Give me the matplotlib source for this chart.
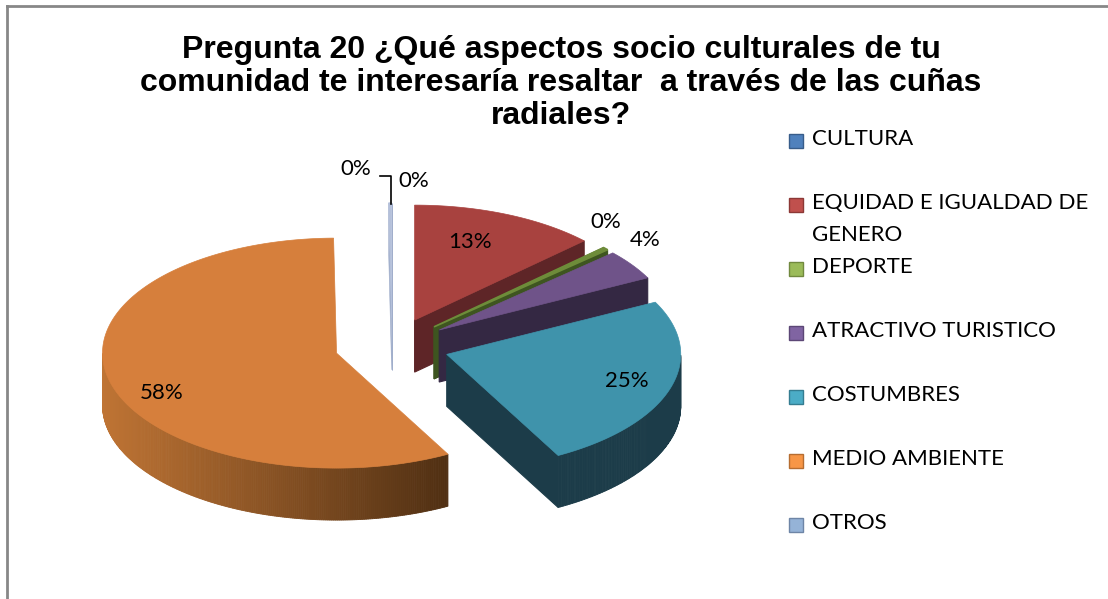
import numpy as np
import matplotlib.pyplot as plt
from matplotlib.patches import Polygon, Rectangle
from matplotlib.lines import Line2D

# datos
categorias = ["CULTURA", "EQUIDAD E IGUALDAD DE\nGENERO", "DEPORTE",
              "ATRACTIVO TURISTICO", "COSTUMBRES", "MEDIO AMBIENTE", "OTROS"]
valores = [0.0, 12.9, 0.4, 4.2, 24.6, 57.7, 0.2]
etiquetas = ["0%", "13%", "0%", "4%", "25%", "58%", "0%"]

colores = ["#4F81BD", "#A8423F", "#6E8C3A", "#6F5389", "#3F93AB", "#D67F3C", "#B4C0DA"]
lados = ["#2E4B6E", "#5E2527", "#3E5520", "#342843", "#1C3C49", "#5A3416", "#A0AECB"]
leyenda_col = ["#4F81BD", "#C0504D", "#9BBB59", "#8064A2", "#4BACC6", "#F79646", "#95B3D7"]
leyenda_borde = ["#385D8A", "#8C3836", "#71893F", "#5C4776", "#357D91", "#B66D31", "#6E85A6"]

# posiciones de etiquetas (pixeles)
pos_etiquetas = [(356, 169), (470, 242), (606, 222), (645, 240), (627, 381), (162, 393), (414, 181)]

cx, cy = 392, 346
rx, ry = 234, 115
prof = 52
expl = 0.245

fig = plt.figure(figsize=(11.08, 5.99), dpi=100)
ax = fig.add_axes([0, 0, 1, 1])
ax.set_xlim(0, 1108)
ax.set_ylim(599, 0)
ax.axis("off")

fracs = np.array(valores) / sum(valores)
inicio = 90 - 360 * np.concatenate([[0], np.cumsum(fracs)[:-1]])
fin = inicio - 360 * fracs
medio = (inicio + fin) / 2


def punto(t, r, ox, oy, dz=0):
    t = np.radians(t)
    return (cx + ox + r * rx * np.cos(t), cy + oy - r * ry * np.sin(t) + dz)


def mezclar(c1, c2, f):
    a = np.array(plt.matplotlib.colors.to_rgb(c1))
    b = np.array(plt.matplotlib.colors.to_rgb(c2))
    return a + (b - a) * f


orden = np.argsort(-np.sin(np.radians(medio)))
for i in orden:
    if fracs[i] == 0:
        continue
    t1, t2 = inicio[i], fin[i]
    ox = expl * rx * np.cos(np.radians(medio[i]))
    oy = -expl * ry * np.sin(np.radians(medio[i]))
    c0 = punto(0, 0, ox, oy)
    ts = np.linspace(t1, t2, max(int(abs(t1 - t2)) * 2, 4))
    fino = fracs[i] < 0.01

    # caras radiales
    for t, vis in [(t1, np.cos(np.radians(t1)) < 0), (t2, np.cos(np.radians(t2)) > 0)]:
        if vis or fino:
            p = punto(t, 1, ox, oy)
            quad = [c0, p, (p[0], p[1] + prof), (c0[0], c0[1] + prof)]
            ax.add_patch(Polygon(quad, closed=True, facecolor=lados[i],
                                 edgecolor=lados[i], lw=0.8 if i != 6 else 0.4))

    # cara exterior (parte frontal)
    tv = ts[np.sin(np.radians(ts)) < 0]
    if len(tv) > 1:
        for k in range(len(tv) - 1):
            a = punto(tv[k], 1, ox, oy)
            b = punto(tv[k + 1], 1, ox, oy)
            if i == 5:
                f = (a[0] - (cx + ox - rx)) / (rx * 1.5)
                col = mezclar("#BF7434", "#4E2E12", np.clip(f, 0, 1))
            else:
                col = lados[i]
            ax.add_patch(Polygon([a, b, (b[0], b[1] + prof), (a[0], a[1] + prof)],
                                 closed=True, facecolor=col, edgecolor=col, lw=0.6))

    # cara superior
    arco = [punto(t, 1, ox, oy) for t in ts]
    grosor = 0.5
    if fino:
        grosor = 1.2 if i != 6 else 0.6
    ax.add_patch(Polygon([c0] + arco, closed=True, facecolor=colores[i],
                         edgecolor=colores[i], lw=grosor))

# etiquetas de datos
for (x, y), txt in zip(pos_etiquetas, etiquetas):
    ax.text(x, y, txt, ha="center", va="center", fontsize=16, family="Lato", color="black")

# linea guia de CULTURA
ax.add_line(Line2D([380, 391, 391], [176, 176, 204], color="black", lw=1.2))

# titulo
fig.text(561 / 1108, 1 - 83 / 599,
         "Pregunta 20 ¿Qué aspectos socio culturales de tu\n"
         "comunidad te interesaría resaltar  a través de las cuñas\nradiales?",
         ha="center", va="center", fontsize=23, fontweight="bold",
         family="Liberation Sans", linespacing=1.14)

# leyenda
ys = [141, 205, 269, 333, 397, 461, 525]
for y, nom, c, b in zip(ys, categorias, leyenda_col, leyenda_borde):
    ax.add_patch(Rectangle((789, y - 7), 14, 14, facecolor=c, edgecolor=b, lw=1))
    ax.text(812, y - 12, nom, ha="left", va="top", fontsize=16, family="Lato",
            linespacing=1.75)

# borde
ax.add_line(Line2D([7, 1108], [6, 6], color="#878787", lw=2))
ax.add_line(Line2D([7, 7], [6, 599], color="#878787", lw=2))

plt.savefig("out.png", dpi=100)
